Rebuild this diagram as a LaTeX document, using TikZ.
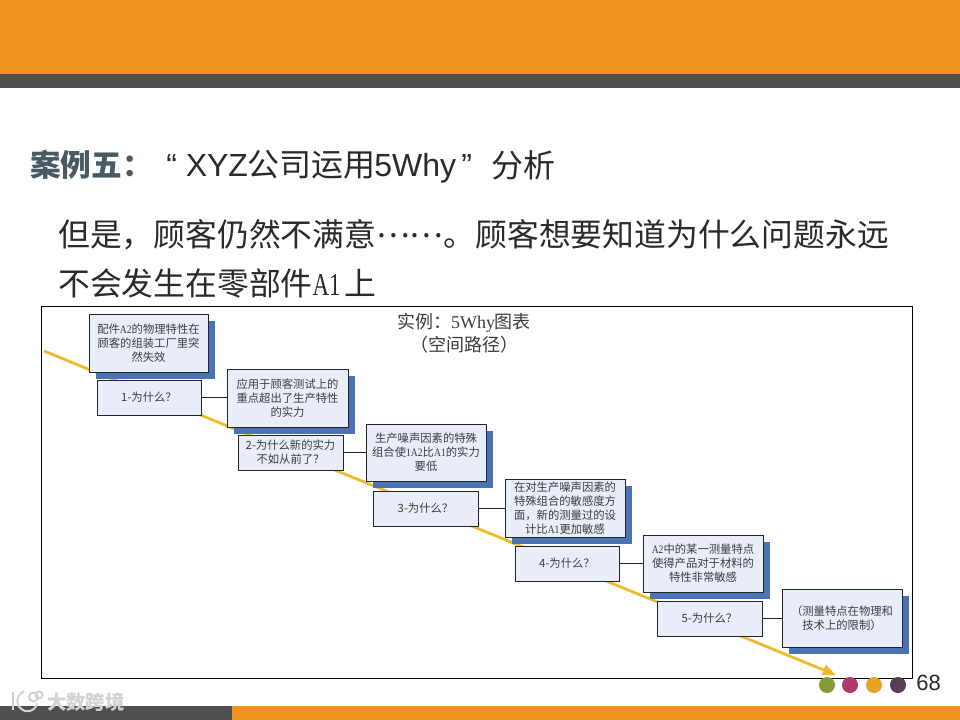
\documentclass[tikz,border=0pt]{standalone}
\usepackage{fontspec}
\usetikzlibrary{shadows,arrows.meta}
\setmainfont{Liberation Sans}
\newfontfamily\cjk{Noto Sans CJK SC}
\newfontfamily\arial{Liberation Sans}
\newfontfamily\latn[FakeStretch=0.85]{Liberation Serif}
\newfontfamily\narrowlatn[FakeStretch=0.72]{Liberation Serif}
\newfontfamily\serifplain{Liberation Serif}
\newcommand{\lt}[1]{{\latn #1}}
\definecolor{barorange}{HTML}{F0921E}
\definecolor{bargray}{HTML}{4D4F50}
\definecolor{boxfill}{HTML}{E8EDF8}
\definecolor{boxedge}{HTML}{20242E}
\definecolor{boxshadow}{HTML}{4A72B4}
\definecolor{pathyellow}{HTML}{EBBD2E}
\definecolor{headcol}{HTML}{4A5A62}
\definecolor{textcol}{HTML}{2A2A2A}
\definecolor{boxtext}{HTML}{3C3C40}
\definecolor{markgray}{HTML}{D2D2D2}
\tikzset{
  x=0.75pt,y=-0.75pt,
  answerbox/.style={draw=boxedge,line width=0.7pt,fill=boxfill,text=boxtext,align=center,inner sep=0pt,
    font=\cjk\fontsize{8.5pt}{10.4pt}\selectfont,
    general shadow={fill=boxshadow,shadow xshift=5.25pt,shadow yshift=-5.25pt}},
  whybox/.style={draw=boxedge,line width=0.7pt,fill=boxfill,text=boxtext,align=center,inner sep=0pt,
    font=\cjk\fontsize{8.5pt}{10.4pt}\selectfont},
  link/.style={draw=boxedge,line width=0.8pt},
  pathline/.style={draw=pathyellow,line width=2.1pt,-{Triangle[length=10pt,width=8pt]}},
  dot/.style={circle,inner sep=0pt,minimum size=12pt},
  bigline/.style={anchor=base west,inner sep=0pt,text=textcol,font=\cjk\fontsize{23.85pt}{24pt}\selectfont},
}
\newcommand{\answerbox}[6]{\node[answerbox,minimum width={(#4-#2)*0.75pt},minimum height={(#5-#3)*0.75pt}] (#1) at ({(#2+#4)/2},{(#3+#5)/2}) {#6};}
\newcommand{\whybox}[6]{\node[whybox,minimum width={(#4-#2)*0.75pt},minimum height={(#5-#3)*0.75pt}] (#1) at ({(#2+#4)/2},{(#3+#5)/2}) {#6};}
\begin{document}
\begin{tikzpicture}
\useasboundingbox (0,0) rectangle (960,720);
\fill[white] (0,0) rectangle (960,720);
% bars
\fill[barorange] (0,0) rectangle (960,74);
\fill[bargray] (0,74) rectangle (960,88);
\fill[bargray] (0,706) rectangle (232,720);
\fill[barorange] (232,706) rectangle (960,720);
% heading
\node[anchor=base west,inner sep=0pt,text=headcol,font=\cjk\bfseries\fontsize{23pt}{23pt}\selectfont] (head) at (30,177) {案例五：};
\node[anchor=base west,inner sep=0pt,text=textcol,font=\arial\fontsize{24pt}{24pt}\selectfont] (sub1) at (166,177) {“ XYZ};
\node[anchor=base west,inner sep=0pt,text=textcol,font=\cjk\fontsize{24pt}{24pt}\selectfont] (sub2) at (247,177) {公司运用};
\node[anchor=base west,inner sep=0pt,text=textcol,font=\arial\fontsize{24pt}{24pt}\selectfont] (sub3) at (374,177) {5Why\kern4pt”};
\node[anchor=base west,inner sep=0pt,text=textcol,font=\cjk\fontsize{24pt}{24pt}\selectfont] (sub4) at (491,178) {分析};
\node[bigline] (line1) at (58,247) {但是，顾客仍然不满意\raisebox{7pt}{……}。顾客想要知道为什么问题永远};
\node[bigline] (line2) at (58,295.5) {不会发生在零部件{\narrowlatn A1}\kern3pt 上};
% frame
\draw[black,line width=0.7pt,fill=white] (41,306) rectangle (912,678);
\node[align=center,inner sep=0pt,text=boxtext,font=\cjk\fontsize{13.5pt}{17.2pt}\selectfont] (title) at (464,333) {实例：{\serifplain 5Why}图表\\（空间路径）};
% path
\coordinate (pstart) at (44,351);
\coordinate (pend) at (836,675);
\draw[pathline] (pstart) -- (pend);
% boxes
\answerbox{a1}{89}{314}{208}{372}{配件\lt{A2}的物理特性在\\顾客的组装工厂里突\\然失效}
\whybox{q1}{97}{380}{201}{415}{1-为什么？}
\answerbox{a2}{227}{369}{348}{427}{应用于顾客测试上的\\重点超出了生产特性\\的实力}
\whybox{q2}{238}{435}{343}{470}{2-为什么新的实力\\不如从前了？}
\answerbox{a3}{366}{424}{486}{481}{生产噪声因素的特殊\\组合使\lt{1A2}比\lt{A1}的实力\\要低}
\whybox{q3}{373}{491}{478}{526}{3-为什么？}
\answerbox{a4}{505}{479}{625}{537}{在对生产噪声因素的\\特殊组合的敏感度方\\面，新的测量过的设\\计比\lt{A1}更加敏感}
\whybox{q4}{515}{546}{619}{581}{4-为什么？}
\answerbox{a5}{643}{535}{763}{592}{\lt{A2}中的某一测量特点\\使得产品对于材料的\\特性非常敏感}
\whybox{q5}{657}{601}{762}{636}{5-为什么？}
\answerbox{a6}{782}{589}{902}{647}{（测量特点在物理和\\技术上的限制）}
% connectors
\draw[link,line width=1.1pt] (q1.east) -- (q1.east -| a2.west);
\draw[link] (q2.east) -- (q2.east -| a3.west);
\draw[link] (q3.east) -- (q3.east -| a4.west);
\draw[link] (q4.east) -- (q4.east -| a5.west);
\draw[link] (q5.east) -- (q5.east -| a6.west);
% dots
\node[dot,fill={rgb,255:red,135;green,154;blue,57}] (d1) at (827,685) {};
\node[dot,fill={rgb,255:red,176;green,58;blue,107}] (d2) at (850,685) {};
\node[dot,fill={rgb,255:red,232;green,163;blue,38}] (d3) at (874,685) {};
\node[dot,fill={rgb,255:red,88;green,62;blue,82}] (d4) at (898,685) {};
\node[anchor=base west,inner sep=0pt,text=textcol,font=\arial\fontsize{16.5pt}{16.5pt}\selectfont] (page) at (916,690) {68};
% watermark
\begin{scope}[draw=markgray,line width=1.5pt]
\draw (13,692) -- (13,710);
\draw (24,691) .. controls (15,697) and (15,707) .. (25,711) .. controls (33,712) and (36,708) .. (37,703);
\draw (33.5,697) circle (4.5);
\draw (39,695) circle (3.5);
\end{scope}
\node[anchor=base west,inner sep=0pt,text=markgray,font=\cjk\bfseries\fontsize{14.5pt}{14.5pt}\selectfont] (mark) at (47,709) {大数跨境};
\end{tikzpicture}
\end{document}
